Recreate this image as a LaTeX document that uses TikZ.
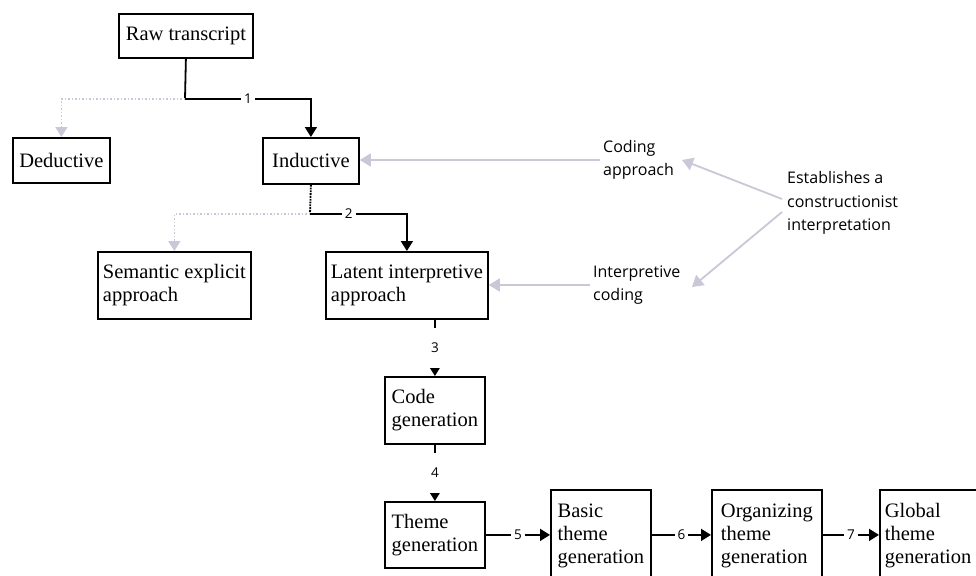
\documentclass[tikz,border=0pt]{standalone}
\usepackage{fontspec}
\setmainfont{Liberation Serif}
\newfontfamily\labelfont{Open Sans}
\usetikzlibrary{arrows.meta}
\definecolor{lgrey}{RGB}{200,200,214}
\begin{document}
\begin{tikzpicture}[x=1pt,y=-1pt,
  box/.style={draw, line width=1.8pt, anchor=north west, inner xsep=5pt, inner ysep=0pt,
    align=left, font=\fontsize{20.5}{23}\selectfont},
  lab/.style={inner sep=3pt, align=left, anchor=west, font=\labelfont\fontsize{16}{23.5}\selectfont},
  numlab/.style={fill=white, inner xsep=3pt, inner ysep=1pt, font=\labelfont\fontsize{13.5}{15}\selectfont},
  numlabv/.style={fill=white, inner xsep=3pt, minimum height=40pt, font=\labelfont\fontsize{13.5}{15}\selectfont},
  conn/.style={line width=1.8pt, -{Triangle[length=10pt,width=12pt]}},
  plainconn/.style={line width=1.8pt},
  greyconn/.style={lgrey, line width=1.5pt, dotted, -{Triangle[length=10pt,width=12pt]}},
  greyarrow/.style={lgrey, line width=1.8pt, -{Triangle[length=11pt,width=13pt]}}]
\useasboundingbox (0,0) rectangle (976,575);
\clip (0,0) rectangle (976,575);

% boxes
\node[box, minimum width=134pt, minimum height=44pt] (raw) at (118,13) {Raw transcript};
\node[box, minimum width=97pt, minimum height=45pt] (ded) at (12,137) {Deductive};
\node[box, minimum width=96pt, minimum height=46pt] (ind) at (262,137) {Inductive};
\node[box, minimum width=152pt, minimum height=67pt] (sem) at (97,251) {Semantic explicit\\approach};
\node[box, minimum width=161pt, minimum height=67pt] (lat) at (325,251) {Latent interpretive\\approach};
\node[box, minimum width=100pt, minimum height=67pt] (code) at (384,376) {Code\\generation};
\node[box, minimum width=100pt, minimum height=66pt] (theme) at (384,501) {Theme\\generation};
\node[box, minimum width=100pt, minimum height=92pt] (basic) at (550,489) {Basic\\theme\\generation};
\node[box, minimum width=110pt, minimum height=92pt] (org) at (711,489) {Organizing\\theme\\generation};
\node[box, text width=94pt, minimum height=92pt] (glob) at (879,489) {Global\\theme\\generation};

% labels
\node[lab] (cod) at (600,160) {Coding\\approach};
\node[lab] (est) at (784,203) {Establishes a\\constructionist\\interpretation};
\node[lab] (intc) at (590,285) {Interpretive\\coding};

% junctions
\coordinate (j1) at (185,99);
\coordinate (j2) at (310,214);
\coordinate (e1) at (782,199);
\coordinate (e2) at (782,212);
\coordinate (ctip) at (682,160);
\coordinate (itip) at (692,287);

% connectors
\draw[plainconn] (raw.south) -- (j1);
\draw[conn] (j1) -| node[numlab, pos=0.25] {1} (ind.north);
\draw[greyconn] (j1) -| (ded.north);

\draw[line width=1.8pt, densely dotted] (ind.south) -- (j2);
\draw[conn] (j2) -| node[numlab, pos=0.2] {2} (lat.north);
\draw[greyconn] (j2) -| (sem.north);

\draw[conn] (code.north |- lat.south) -- node[numlabv] {3} (code.north);
\draw[conn] (code.south) -- node[numlabv] {4} (theme.north);
\draw[conn] (theme.east) -- node[numlab] {5} (basic.west |- theme.east);
\draw[conn] (basic.east |- theme.east) -- node[numlab] {6} (org.west |- theme.east);
\draw[conn] (org.east |- theme.east) -- node[numlab] {7} (glob.west |- theme.east);

% grey arrows
\draw[greyarrow] (cod.west) -- (ind.east |- cod.west);
\draw[greyarrow] (intc.west) -- (lat.east |- intc.west);
\draw[greyarrow] (e1) -- (ctip);
\draw[greyarrow] (e2) -- (itip);
\end{tikzpicture}
\end{document}
